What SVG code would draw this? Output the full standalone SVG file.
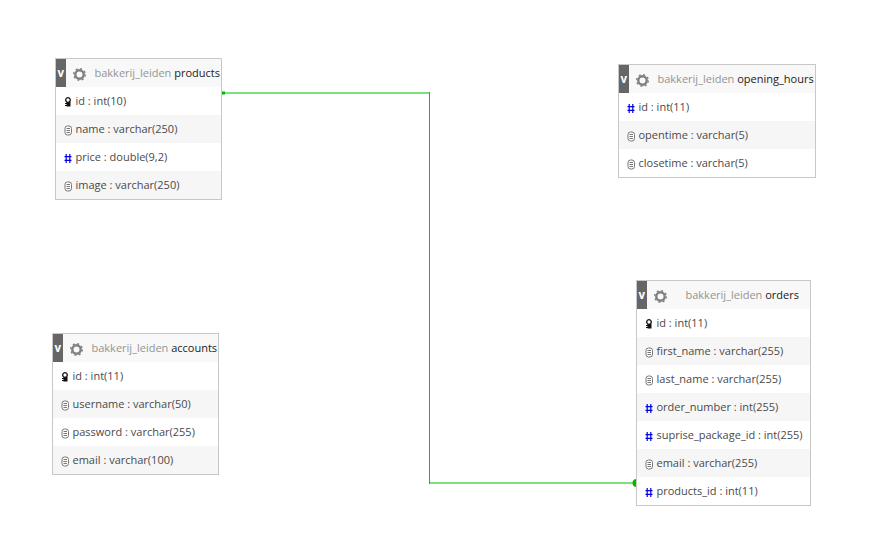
<svg xmlns="http://www.w3.org/2000/svg" width="869" height="558" viewBox="0 0 869 558">
<style>
text{font-family:"Open Sans","Noto Sans",sans-serif;font-size:11px;fill:#4a4a4a}
.box{fill:#fff;stroke:#c8c8c8;stroke-width:1}
.alt{fill:#f6f6f6}
.tab{fill:#666}
.head{fill:#f8f8f8}
text.v{font-weight:700;font-size:11.500px;fill:#fff}
.db{fill:#949494}
.tn{fill:#222}
.doc{fill:#fff;stroke:#777;stroke-width:1}
.docl{stroke:#777;stroke-width:1;fill:none}
.conn{fill:none;stroke:#7fe07f;stroke-width:2}
.conn2{fill:none;stroke:#1fb41f;stroke-width:1}
</style>
<defs>
<g id="gear"><circle r="4.200" fill="none" stroke="#808080" stroke-width="2.400"/><circle r="5.800" fill="none" stroke="#808080" stroke-width="1.400" stroke-dasharray="2 2.550"/></g>
<g id="txt"><rect x="-3" y="-4.500" width="6.500" height="9" rx="2.500" class="doc"/><path d="M-1.500-2H2M-1.500 0H2M-1.500 2H2" class="docl"/></g>
<g id="key"><circle cy="-2" r="2.300" fill="none" stroke="#111" stroke-width="1.300"/><rect x="-1.500" y="0" width="4" height="4.500" fill="#111"/><path d="M-3 1.500h2M-3 3.500h2" stroke="#111"/></g>
<g id="num"><path d="M-1.800-4.500V4.500M1.800-4.500V4.500M-3.500-1.800H3.500M-3.500 1.800H3.500" stroke="#0000e0" stroke-width="1.200" fill="none"/></g>
</defs>
<g id="connectors">
<path class="conn" d="M223 93H429"/>
<path class="conn2" d="M429.500 92V484"/>
<path class="conn" d="M430 483H634"/>
<rect x="222" y="91.500" width="3" height="3" fill="#00b800"/>
<path d="M636.500 479V487A4 4 0 0 1 636.500 479Z" fill="#00b800"/>
</g>
<g id="products">
<rect class="box" x="55.500" y="58.500" width="166" height="141"/>
<rect class="head" x="66" y="59" width="155" height="28"/>
<rect class="tab" x="56" y="59" width="10" height="28"/>
<rect class="alt" x="56" y="115" width="165" height="28"/>
<rect class="alt" x="56" y="171" width="165" height="28"/>
<text class="v" x="57.500" y="77">v</text>
<use href="#gear" x="79.500" y="74.500"/>
<text x="94.500" y="77"><tspan class="db">bakkerij_leiden</tspan> <tspan class="tn">products</tspan></text>
<use href="#key" x="68" y="102"/><text x="75.500" y="105">id : int(10)</text>
<use href="#txt" x="68" y="130.500"/><text x="75.500" y="133">name : varchar(250)</text>
<use href="#num" x="68" y="158.500"/><text x="75.500" y="161">price : double(9,2)</text>
<use href="#txt" x="68" y="186.500"/><text x="75.500" y="189">image : varchar(250)</text>
</g>
<g id="opening_hours">
<rect class="box" x="618.500" y="64.500" width="197" height="113"/>
<rect class="head" x="629" y="65" width="186" height="28"/>
<rect class="tab" x="619" y="65" width="10" height="28"/>
<rect class="alt" x="619" y="121" width="196" height="28"/>
<text class="v" x="620.500" y="83">v</text>
<use href="#gear" x="642.500" y="80.500"/>
<text x="657.500" y="83"><tspan class="db">bakkerij_leiden</tspan> <tspan class="tn">opening_hours</tspan></text>
<use href="#num" x="631" y="108.500"/><text x="638.500" y="111">id : int(11)</text>
<use href="#txt" x="631" y="136.500"/><text x="638.500" y="139">opentime : varchar(5)</text>
<use href="#txt" x="631" y="164.500"/><text x="638.500" y="167">closetime : varchar(5)</text>
</g>
<g id="accounts">
<rect class="box" x="52.500" y="333.500" width="166" height="141"/>
<rect class="head" x="63" y="334" width="155" height="28"/>
<rect class="tab" x="53" y="334" width="10" height="28"/>
<rect class="alt" x="53" y="390" width="165" height="28"/>
<rect class="alt" x="53" y="446" width="165" height="28"/>
<text class="v" x="54.500" y="352">v</text>
<use href="#gear" x="76.500" y="349.500"/>
<text x="91.500" y="352"><tspan class="db">bakkerij_leiden</tspan> <tspan class="tn">accounts</tspan></text>
<use href="#key" x="65" y="377"/><text x="72.500" y="380">id : int(11)</text>
<use href="#txt" x="65" y="405.500"/><text x="72.500" y="408">username : varchar(50)</text>
<use href="#txt" x="65" y="433.500"/><text x="72.500" y="436">password : varchar(255)</text>
<use href="#txt" x="65" y="461.500"/><text x="72.500" y="464">email : varchar(100)</text>
</g>
<g id="orders">
<rect class="box" x="636.500" y="280.500" width="174" height="225"/>
<rect class="head" x="647" y="281" width="163" height="28"/>
<rect class="tab" x="637" y="281" width="10" height="28"/>
<rect class="alt" x="637" y="337" width="173" height="28"/>
<rect class="alt" x="637" y="393" width="173" height="28"/>
<rect class="alt" x="637" y="449" width="173" height="28"/>
<text class="v" x="638.500" y="299">v</text>
<use href="#gear" x="660.500" y="296.500"/>
<text x="685.500" y="299"><tspan class="db">bakkerij_leiden</tspan> <tspan class="tn">orders</tspan></text>
<use href="#key" x="649" y="324"/><text x="656.500" y="327">id : int(11)</text>
<use href="#txt" x="649" y="352.500"/><text x="656.500" y="355">first_name : varchar(255)</text>
<use href="#txt" x="649" y="380.500"/><text x="656.500" y="383">last_name : varchar(255)</text>
<use href="#num" x="649" y="408.500"/><text x="656.500" y="411">order_number : int(255)</text>
<use href="#num" x="649" y="436.500"/><text x="656.500" y="439">suprise_package_id : int(255)</text>
<use href="#txt" x="649" y="464.500"/><text x="656.500" y="467">email : varchar(255)</text>
<use href="#num" x="649" y="492.500"/><text x="656.500" y="495">products_id : int(11)</text>
</g>
</svg>
